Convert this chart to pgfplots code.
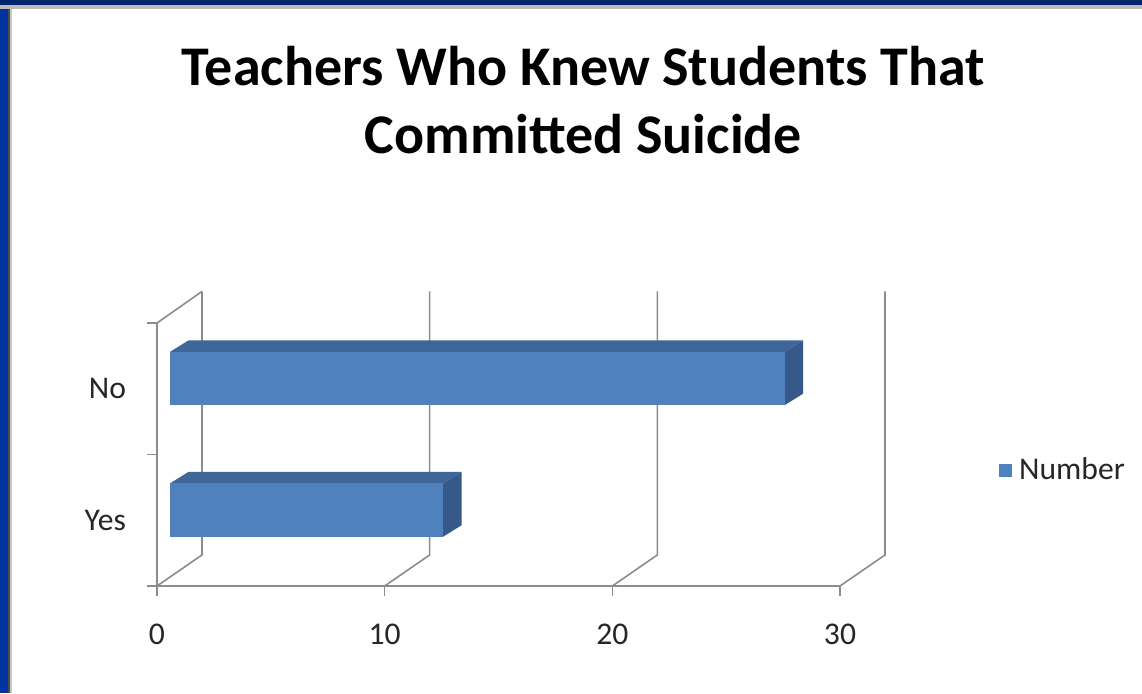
\documentclass[border=0pt]{standalone}
\usepackage{fontspec}
\setmainfont{Carlito}
\usepackage{pgfplots}
\pgfplotsset{compat=1.18}
\usepackage{pgfplotstable}
\definecolor{barfront}{HTML}{4F81BD}
\definecolor{bartop}{HTML}{3E6698}
\definecolor{barside}{HTML}{36598A}
\definecolor{gridgray}{HTML}{8C8C8C}
\definecolor{navy}{HTML}{00236E}
\definecolor{sideblue}{HTML}{0033A0}

% faces of a 3-D bar: f = 0 at zero / 1 at the value, d = depth, h = bottom/top
\pgfplotstableread{
f d h
0 0 0
1 0 0
1 0 1
0 0 1
}\frontface
\pgfplotstableread{
f d h
0 0 1
1 0 1
1 1 1
0 1 1
}\topface
\pgfplotstableread{
f d h
1 0 0
1 1 0
1 1 1
1 0 1
}\sideface

\newcommand{\threedbar}[2]{% #1 = value, #2 = category position
  \addplot[fill=bartop, draw=none, forget plot] table[x expr={0.571+\thisrow{f}*#1+\thisrow{d}*0.81}, y expr={#2+0.078+(\thisrow{h}-0.5)*0.405+\thisrow{d}*0.087}] {\topface};
  \addplot[fill=barside, draw=none, forget plot] table[x expr={0.571+\thisrow{f}*#1+\thisrow{d}*0.81}, y expr={#2+0.078+(\thisrow{h}-0.5)*0.405+\thisrow{d}*0.087}] {\sideface};
  \addplot[fill=barfront, draw=none, forget plot] table[x expr={0.571+\thisrow{f}*#1+\thisrow{d}*0.81}, y expr={#2+0.078+(\thisrow{h}-0.5)*0.405+\thisrow{d}*0.087}] {\frontface};
}

\begin{document}
\begin{tikzpicture}
\useasboundingbox (0,0) rectangle (571pt,346.5pt);
\fill[white] (0,0) rectangle (571pt,346.5pt);
\fill[sideblue] (0,0) rectangle (3.8pt,346.5pt);
\fill[black!70] (3.8pt,0) rectangle (5pt,344pt);
\fill[gray!45] (5pt,0) rectangle (6pt,343pt);
\fill[gray!55] (0,342.2pt) rectangle (571pt,344pt);
\fill[navy] (0,344pt) rectangle (571pt,346.5pt);

\node[anchor=base, font=\fontsize{28}{32}\selectfont\bfseries] at (291.75pt,304pt) {Teachers Who Knew Students That};
\node[anchor=base, font=\fontsize{28}{32}\selectfont\bfseries] at (291.75pt,270pt) {Committed Suicide};

\begin{axis}[
  at={(78.5pt,53.5pt)}, anchor=south west,
  scale only axis, width=341.5pt, height=131.5pt,
  xmin=0, xmax=30, ymin=0, ymax=2,
  clip=false,
  axis x line*=bottom, axis y line*=left,
  axis line style={gridgray, line width=0.8pt},
  xtick={0,10,20,30},
  xtick align=outside, major tick length=5pt,
  xtick style={gridgray, line width=0.8pt},
  ytick={0.5,1.5}, yticklabels={Yes,No},
  ytick style={draw=none},
  /pgf/number format/assume math mode=true,
  tick label style={font=\fontsize{15.8}{18}\selectfont, text=black!85},
  xticklabel style={anchor=base, yshift=-24pt},
  yticklabel style={anchor=east, xshift=-12pt},
  legend style={at={(1.224,0.441)}, anchor=west, draw=none, fill=none,
    font=\fontsize{15.8}{18}\selectfont, text=black!85},
]
% back wall, side wall and floor lines
\foreach \v in {0,10,20,30} {
  \edef\tmp{\noexpand\draw[gridgray, line width=0.8pt] (axis cs:\v,0) -- (axis cs:\v+1.976,0.236) -- (axis cs:\v+1.976,2.24);}
  \tmp
}
\draw[gridgray, line width=0.8pt] (axis cs:0,2) -- (axis cs:1.976,2.24);
\draw[gridgray, line width=0.8pt] (axis cs:0,0) -- ++(-5pt,0);
\draw[gridgray, line width=0.8pt] (axis cs:0,1) -- ++(-5pt,0);
\draw[gridgray, line width=0.8pt] (axis cs:0,2) -- ++(-5pt,0);

\threedbar{12}{0.5}
\threedbar{27}{1.5}

\addlegendimage{legend image code/.code={\fill[barfront] (0pt,-3pt) rectangle (6pt,3pt);}}
\addlegendentry{\hspace{1.5pt}Number}
\end{axis}
\end{tikzpicture}
\end{document}
